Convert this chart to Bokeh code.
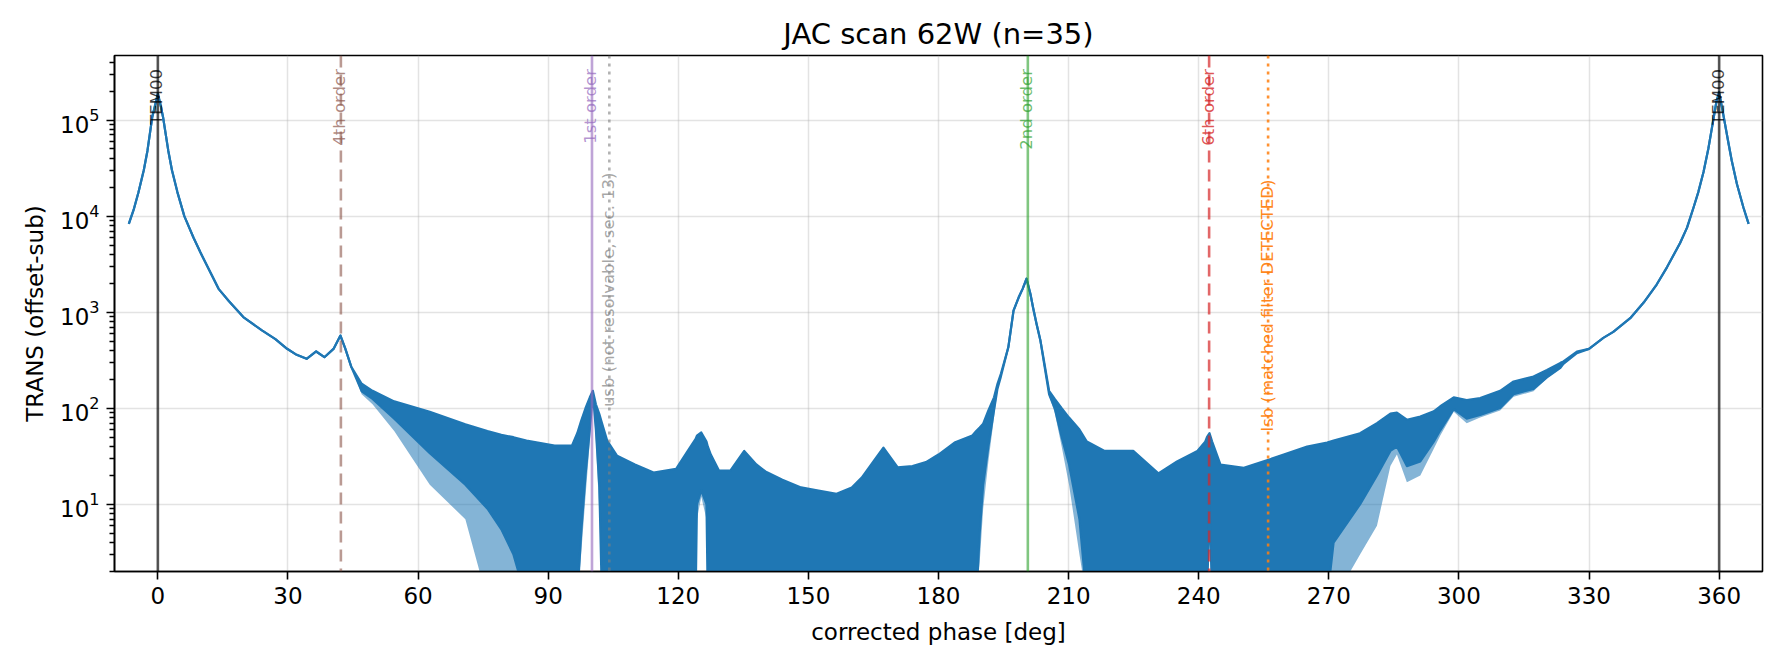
import math
from bokeh.plotting import figure
from bokeh.models import ColumnDataSource, FixedTicker, Span, Range1d
from bokeh.embed import file_html
from bokeh.resources import INLINE
from bokeh.core.properties import value

# ---- data ----
phase = [
    -6.7, -5.5, -4.5, -3.25, -2.4, -1.3, -0.6, 0.0, 0.6, 1.2,
    2.4, 3.25, 4.5, 6.1, 8.2, 9.8, 12.3, 14.0, 16.4, 19.7,
    24.0, 27.1, 29.8, 32.0, 34.3, 36.5, 38.4, 40.5, 42.1, 43.2,
    44.6, 47.0, 49.5, 54.5, 62.7, 70.9, 76.0, 79.2, 82.0, 85.0,
    91.5, 95.5, 96.7, 97.6, 98.6, 99.6, 100.3, 101.0, 101.8, 102.4,
    103.6, 105.9, 110.0, 114.3, 119.5, 122.0, 124.0, 124.3, 125.3, 126.5,
    126.8, 127.5, 129.4, 132.0, 135.2, 138.0, 140.1, 144.0, 148.3, 152.0,
    156.5, 160.0, 162.3, 165.0, 167.3, 170.6, 174.0, 177.1, 180.0, 183.7,
    187.8, 188.7, 189.5, 190.3, 191.5, 192.8, 193.6, 194.4, 196.1, 197.3,
    198.5, 199.4, 200.3, 201.2, 201.8, 202.6, 203.5, 204.3, 205.5, 206.8,
    208.4, 210.1, 212.5, 214.2, 218.3, 224.9, 230.7, 235.0, 239.7, 241.5,
    241.9, 242.5, 243.1, 245.0, 250.4, 255.0, 259.6, 265.0, 269.6, 271.1,
    277.2, 281.1, 284.2, 285.7, 288.0, 291.1, 294.2, 295.7, 298.8, 301.8,
    304.9, 309.5, 312.6, 317.2, 320.3, 323.4, 324.1, 327.2, 330.0, 333.3,
    335.6, 339.5, 342.6, 345.6, 348.0, 351.0, 352.6, 354.1, 355.2, 356.4,
    357.5, 358.3, 359.4, 360.0, 360.9, 362.2, 362.9, 364.1, 365.6, 366.8,
]

# upper edge of the trace / noise band
trans_hi = [
    8300, 12000, 17500, 30000, 48000, 107000, 145000, 188000, 145000, 107000,
    48000, 30000, 17800, 10000, 6000, 4200, 2500, 1750, 1300, 890,
    646, 525, 416, 360, 327, 390, 340, 415, 571, 420,
    270, 180, 152, 118, 92, 68, 58, 53, 50, 46,
    41, 41, 55, 74, 100, 130, 152, 110, 87, 70,
    46, 32, 26, 21.4, 23.4, 35, 48, 52, 56, 45,
    40, 33, 22.4, 22.5, 36, 26, 22, 18, 15, 14,
    12.9, 15, 19, 28, 39, 24.3, 25, 27.5, 33, 44,
    52, 58, 63, 69, 95, 130, 180, 230, 431, 1040,
    1430, 1750, 2230, 1550, 1120, 760, 507, 316, 152, 125,
    100, 80, 60, 45, 36, 36, 21, 28, 36, 45,
    50, 55, 45, 26, 24, 28, 33, 40, 44, 46,
    55, 70, 88, 90, 76, 82, 93, 105, 130, 122,
    128, 152, 190, 214, 250, 297, 307, 389, 415, 541,
    624, 867, 1260, 1940, 2950, 5260, 7600, 12300, 17800, 28800,
    50000, 81000, 158000, 195000, 118000, 56000, 38000, 21600, 12300, 8300,
]

# lower edge of the dense part of the band (1 = below the axis)
trans_lo = [
    8300, 12000, 17500, 30000, 48000, 107000, 145000, 188000, 145000, 107000,
    48000, 30000, 17800, 10000, 6000, 4200, 2500, 1750, 1300, 890,
    646, 525, 416, 360, 327, 390, 340, 415, 571, 420,
    270, 150, 125, 78, 34, 16, 9, 5.5, 3, 1,
    1, 1, 1, 5, 20, 60, 140, 60, 15, 1,
    1, 1, 1, 1, 1, 1, 1, 10, 14, 10,
    1, 1, 1, 1, 1, 1, 1, 1, 1, 1,
    1, 1, 1, 1, 1, 1, 1, 1, 1, 1,
    1, 1, 5, 16, 40, 95, 160, 215, 431, 1040,
    1430, 1750, 2230, 1550, 1120, 760, 507, 300, 140, 100,
    50, 26, 7, 1, 1, 1, 1, 1, 1, 1,
    1, 10.5, 1, 1, 1, 1, 1, 1, 1, 4,
    10, 20, 36, 40, 25, 28, 45, 59, 98, 78,
    85, 101, 140, 159, 210, 263, 290, 375, 415, 541,
    624, 867, 1260, 1940, 2950, 5260, 7600, 12300, 17800, 28800,
    50000, 81000, 158000, 195000, 118000, 56000, 38000, 21600, 12300, 8300,
]

# lowest reach of the faint downward spikes
trans_spike_lo = [
    8300, 12000, 17500, 30000, 48000, 107000, 145000, 188000, 145000, 107000,
    48000, 30000, 17800, 10000, 6000, 4200, 2500, 1750, 1300, 890,
    646, 525, 416, 360, 327, 390, 340, 415, 571, 420,
    270, 140, 110, 58, 16, 7, 1, 1, 1, 1,
    1, 1, 1, 3, 12, 45, 140, 45, 8, 1,
    1, 1, 1, 1, 1, 1, 1, 7, 12, 7,
    1, 1, 1, 1, 1, 1, 1, 1, 1, 1,
    1, 1, 1, 1, 1, 1, 1, 1, 1, 1,
    1, 1, 2.5, 9, 28, 80, 150, 210, 431, 1040,
    1430, 1750, 2230, 1550, 1120, 760, 507, 300, 135, 90,
    40, 16, 3, 1, 1, 1, 1, 1, 1, 1,
    1, 8, 1, 1, 1, 1, 1, 1, 1, 1,
    3, 6, 25, 33, 17, 20, 38, 52, 92, 70,
    80, 95, 132, 150, 205, 260, 290, 375, 415, 541,
    624, 867, 1260, 1940, 2950, 5260, 7600, 12300, 17800, 28800,
    50000, 81000, 158000, 195000, 118000, 56000, 38000, 21600, 12300, 8300,
]

assert len(phase) == len(trans_hi) == len(trans_lo) == len(trans_spike_lo)

marker_names = ["TEM00", "4th order", "1st order", "usb (not resolvable, sec. 13)",
                "2nd order", "6th order", "lsb (matched filter DETECTED)", "TEM00"]
marker_phase = [0.0, 42.2, 100.1, 104.1, 200.6, 242.4, 256.0, 360.0]
marker_label_top = [3.4e5, 3.4e5, 3.4e5, 2.85e4, 3.4e5, 3.4e5, 2.4e4, 3.4e5]

x_ticks = [0, 30, 60, 90, 120, 150, 180, 210, 240, 270, 300, 330, 360]
y_decades = [1e1, 1e2, 1e3, 1e4, 1e5]
y_minor = [m * 10 ** k for k in range(0, 6) for m in range(2, 10)]

# ---- styles ----
marker_color = ["#000000", "#8c564b", "#9467bd", "#7f7f7f", "#2ca02c", "#d62728", "#ff7f0e", "#000000"]
marker_dash = ["solid", "12 7", "solid", "3 5", "solid", "12 7", "3 5", "solid"]
marker_alpha = [0.65, 0.6, 0.6, 0.6, 0.6, 0.7, 0.85, 0.65]

FONT = "DejaVu Sans"
BLUE = "#1f77b4"

p = figure(width=1772, height=657, y_axis_type="log",
           x_range=Range1d(-10, 370), y_range=Range1d(2, 4.7e5),
           output_backend="svg", toolbar_location=None,
           title="JAC scan 62W (n=35)",
           min_border_left=114, min_border_right=10, min_border_top=55, min_border_bottom=86)

p.title.text_font = FONT
p.title.text_font_size = "29px"
p.title.text_font_style = "normal"
p.title.align = "center"
p.title.text_color = "#000000"

p.outline_line_color = "#000000"
p.outline_line_width = 1.6
p.background_fill_color = "#ffffff"
p.border_fill_color = "#ffffff"

for ax in (p.xaxis[0], p.yaxis[0]):
    ax.axis_line_width = 1.6
    ax.axis_line_color = "#000000"
    ax.major_tick_line_width = 1.6
    ax.major_tick_line_color = "#000000"
    ax.major_tick_out = 8
    ax.major_tick_in = 0
    ax.major_label_text_font = FONT
    ax.major_label_text_font_size = "23px"
    ax.major_label_text_color = "#000000"
    ax.axis_label_text_font = FONT
    ax.axis_label_text_font_size = "23px"
    ax.axis_label_text_font_style = "normal"
    ax.axis_label_text_color = "#000000"

p.xaxis.ticker = FixedTicker(ticks=x_ticks)
p.xaxis.minor_tick_line_color = None
p.xaxis.axis_label = "corrected phase [deg]"
p.xaxis.major_label_standoff = 7
p.xaxis.axis_label_standoff = 12

p.yaxis.ticker = FixedTicker(ticks=y_decades, minor_ticks=y_minor)
p.yaxis.minor_tick_line_width = 1.3
p.yaxis.minor_tick_line_color = "#000000"
p.yaxis.minor_tick_out = 5
p.yaxis.minor_tick_in = 0
p.yaxis.axis_label = "TRANS (offset-sub)"
p.yaxis.major_label_standoff = 7
p.yaxis.axis_label_standoff = 9

p.xgrid.grid_line_color = "#b0b0b0"
p.xgrid.grid_line_alpha = 0.35
p.xgrid.grid_line_width = 1.5
p.ygrid.grid_line_color = "#b0b0b0"
p.ygrid.grid_line_alpha = 0.35
p.ygrid.grid_line_width = 1.5
p.ygrid.minor_grid_line_color = None

src = ColumnDataSource(dict(x=phase, hi=trans_hi, lo=trans_lo, slo=trans_spike_lo))
# faint spikes below the dense band
p.varea(x="x", y1="slo", y2="hi", source=src, fill_color=BLUE, fill_alpha=0.55)
# dense band / trace
p.varea(x="x", y1="lo", y2="hi", source=src, fill_color=BLUE, fill_alpha=1.0)
p.line(x="x", y="hi", source=src, line_color=BLUE, line_width=2.2, line_join="round")
p.line(x="x", y="lo", source=src, line_color=BLUE, line_width=2.2, line_join="round")

for xm, c, d, a in zip(marker_phase, marker_color, marker_dash, marker_alpha):
    p.add_layout(Span(location=xm, dimension="height", line_color=c, line_alpha=a,
                      line_width=2.6, line_dash=d))

lab = ColumnDataSource(dict(x=marker_phase, y=marker_label_top, t=marker_names,
                            c=marker_color, a=[min(1.0, v + 0.1) for v in marker_alpha]))
p.text(x="x", y="y", text="t", source=lab, angle=math.pi / 2,
       text_align="right", text_baseline="middle", x_offset=-1,
       text_color="c", text_alpha="a",
       text_font=value(FONT), text_font_size="16.5px")

open("out.html", "w").write(file_html(p, INLINE))
